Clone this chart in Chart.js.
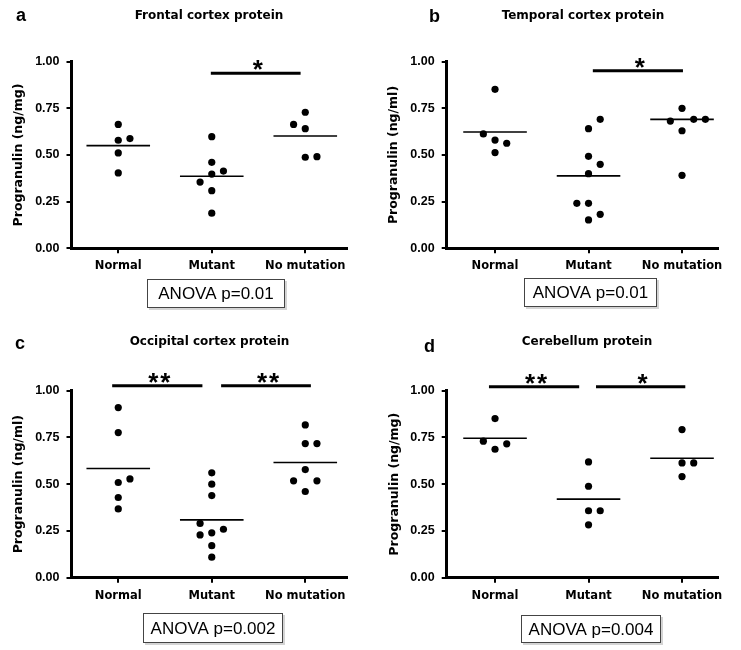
<!DOCTYPE html>
<html>
<head>
<meta charset="utf-8">
<script src="https://cdn.jsdelivr.net/npm/chart.js@4.4.1/dist/chart.umd.min.js"></script>
<style>
  html, body { margin: 0; padding: 0; background: #fff; }
  #fig { position: relative; width: 741px; height: 650px; }
  .panel { position: absolute; }
</style>
</head>
<body>
<div id="fig">
  <canvas id="panelA" class="panel" width="370" height="325" style="left:0;top:0;width:370px;height:325px"></canvas>
  <canvas id="panelB" class="panel" width="371" height="325" style="left:370px;top:0;width:371px;height:325px"></canvas>
  <canvas id="panelC" class="panel" width="370" height="325" style="left:0;top:325px;width:370px;height:325px"></canvas>
  <canvas id="panelD" class="panel" width="371" height="325" style="left:370px;top:325px;width:371px;height:325px"></canvas>
</div>
<script>
// Progranulin dot plots — four brain regions.

const groups = ["Normal", "Mutant", "No mutation"];
const yTicks = [0, 0.25, 0.5, 0.75, 1];

// --- Frontal cortex (ng/mg) ---
const frontalNormal = [0.664, 0.579, 0.511, 0.404, 0.588];
const frontalMutant = [0.598, 0.461, 0.398, 0.309, 0.188, 0.414, 0.355];
const frontalNoMut = [0.729, 0.641, 0.488, 0.491, 0.664];
const frontalMeans = [0.550, 0.386, 0.602];
const frontalSig = [{ pair: [1, 2], label: "*" }];

// --- Temporal cortex (ng/ml) ---
const temporalNormal = [0.852, 0.580, 0.513, 0.563, 0.613];
const temporalMutant = [0.641, 0.493, 0.400, 0.241, 0.152, 0.691, 0.450, 0.182, 0.241];
const temporalNoMut = [0.750, 0.630, 0.391, 0.691, 0.682, 0.691];
const temporalMeans = [0.623, 0.388, 0.691];
const temporalSig = [{ pair: [1, 2], label: "*" }];

// --- Occipital cortex (ng/ml) ---
const occipitalNormal = [0.910, 0.776, 0.509, 0.368, 0.429, 0.528];
const occipitalMutant = [0.500, 0.439, 0.240, 0.171, 0.110, 0.561, 0.259, 0.290, 0.229];
const occipitalNoMut = [0.817, 0.717, 0.578, 0.461, 0.518, 0.518, 0.717];
const occipitalMeans = [0.584, 0.309, 0.616];
const occipitalSig = [{ pair: [0, 1], label: "**" }, { pair: [1, 2], label: "**" }];

// --- Cerebellum (ng/mg) ---
const cerebellumNormal = [0.851, 0.687, 0.716, 0.730];
const cerebellumMutant = [0.619, 0.489, 0.358, 0.283, 0.358];
const cerebellumNoMut = [0.792, 0.614, 0.541, 0.614];
const cerebellumMeans = [0.746, 0.420, 0.639];
const cerebellumSig = [{ pair: [0, 1], label: "**" }, { pair: [1, 2], label: "*" }];

const ARIAL = "'Liberation Sans', Arial, sans-serif";
const WIDE = "'DejaVu Sans', sans-serif";

Chart.defaults.color = "#000";

// Prism-like scatter: points that would overlap move into side columns.
function swarmColumns(values, gap = 0.06, reach = 0.2) {
  const placed = [];
  return values.map((v) => {
    const hits = (col) => placed.some((p) => p.col === col && Math.abs(p.v - v) < gap);
    const room = (col) => placed.reduce((d, p) => (p.col === col ? Math.min(d, Math.abs(p.v - v)) : d), reach);
    let col = 0;
    for (let k = 1; hits(col); k++) {
      const free = [k, -k].filter((c) => !hits(c));
      if (free.length) {
        col = free.length === 2 && room(-k) > room(k) ? -k : free[0];
        break;
      }
    }
    placed.push({ v, col });
    return col;
  });
}

const decor = {
  id: "decor",
  afterDraw(chart, args, o) {
    const { ctx } = chart;
    const x = chart.scales.x, y = chart.scales.y;
    ctx.save();
    ctx.fillStyle = "#000";
    ctx.textBaseline = "alphabetic";

    ctx.font = `bold 18px ${ARIAL}`;
    ctx.textAlign = "left";
    ctx.fillText(o.letter, o.letterAt[0], o.letterAt[1]);

    ctx.font = `bold 12px ${WIDE}`;
    ctx.textAlign = "center";
    ctx.fillText(o.title, o.titleAt[0], o.titleAt[1]);

    // significance bars + stars
    o.sig.forEach((s, i) => {
      const trim = o.barTrim[i];
      const x0 = x.getPixelForValue(s.pair[0] + trim[0]);
      const x1 = x.getPixelForValue(s.pair[1] + trim[1]);
      const yy = y.getPixelForValue(o.barLevel);
      ctx.lineWidth = 3;
      ctx.strokeStyle = "#000";
      ctx.beginPath();
      ctx.moveTo(x0, yy);
      ctx.lineTo(x1, yy);
      ctx.stroke();

      ctx.font = `bold 26px ${ARIAL}`;
      const m = ctx.measureText("*");
      const base = yy - 8 + (m.actualBoundingBoxAscent - m.actualBoundingBoxDescent) / 2;
      const n = s.label.length;
      const cx = (x0 + x1) / 2 + 2;
      for (let j = 0; j < n; j++) ctx.fillText("*", cx + (j - (n - 1) / 2) * 12, base);
    });

    // ANOVA box
    const [bx, by, bw, bh] = o.box;
    ctx.fillStyle = "#d4d4d4";
    ctx.fillRect(bx + 2, by + 2, bw, bh);
    ctx.fillStyle = "#fff";
    ctx.fillRect(bx, by, bw, bh);
    ctx.lineWidth = 1;
    ctx.strokeStyle = "#444";
    ctx.strokeRect(bx + 0.5, by + 0.5, bw - 1, bh - 1);
    ctx.fillStyle = "#000";
    ctx.font = `17px ${ARIAL}`;
    ctx.textBaseline = "middle";
    ctx.fillText(o.anova, bx + bw / 2, by + bh / 2 + 1);
    ctx.restore();
  },
};

function makePanel(id, series, means, p) {
  const points = [];
  series.forEach((vals, g) => {
    const cols = swarmColumns(vals);
    vals.forEach((v, j) => points.push({ x: g + cols[j] * 0.125, y: v }));
  });

  const meanSets = means.map((m, g) => ({
    data: [{ x: g - 0.34, y: m }, { x: g + 0.34, y: m }],
    showLine: true,
    borderColor: "#000",
    borderWidth: 1.6,
    pointRadius: 0,
  }));

  return new Chart(document.getElementById(id), {
    type: "scatter",
    data: {
      datasets: [
        { data: points, pointRadius: 3.6, pointBackgroundColor: "#000", pointBorderWidth: 0, showLine: false },
        ...meanSets,
      ],
    },
    options: {
      responsive: false,
      animation: false,
      events: [],
      layout: { padding: { top: p.top, right: p.right, bottom: p.bottom, left: 0 } },
      plugins: {
        legend: { display: false },
        tooltip: { enabled: false },
        decor: p,
      },
      scales: {
        x: {
          type: "linear",
          min: p.xmin,
          max: p.xmax,
          afterBuildTicks: (s) => { s.ticks = groups.map((_, i) => ({ value: i })); },
          afterFit: (s) => { s.height = 30; },
          ticks: {
            callback: (v) => groups[v],
            font: { family: WIDE, weight: "bold", size: 11.5 },
            padding: 6,
            maxRotation: 0,
            autoSkip: false,
          },
          grid: { drawOnChartArea: false, drawTicks: true, tickLength: 5, lineWidth: 2, color: "#000" },
          border: { display: true, width: 3, color: "#000" },
        },
        y: {
          min: 0,
          max: 1,
          afterBuildTicks: (s) => { s.ticks = yTicks.map((v) => ({ value: v })); },
          afterFit: (s) => { s.width = p.left; },
          ticks: {
            callback: (v) => v.toFixed(2),
            font: { family: ARIAL, weight: "bold", size: 12.5 },
            padding: 7,
          },
          grid: { drawOnChartArea: false, drawTicks: true, tickLength: 5, lineWidth: 2, color: "#000" },
          border: { display: true, width: 3, color: "#000" },
          title: {
            display: true,
            text: p.yTitle,
            font: { family: WIDE, weight: "bold", size: 12.5 },
            padding: { top: p.yTitlePad, bottom: 0 },
          },
        },
      },
    },
    plugins: [decor],
  });
}

makePanel("panelA", [frontalNormal, frontalMutant, frontalNoMut], frontalMeans, {
  letter: "a", letterAt: [16, 21], title: "Frontal cortex protein", titleAt: [209, 18.5],
  yTitle: "Progranulin (ng/mg)", yTitlePad: 11.5,
  left: 71.5, top: 61.7, right: 23.3, bottom: 46.7, xmin: -0.5, xmax: 2.443,
  sig: frontalSig, barLevel: 0.9375, barTrim: [[-0.01, -0.05]],
  anova: "ANOVA p=0.01", box: [147, 279, 138, 29],
});

makePanel("panelB", [temporalNormal, temporalMutant, temporalNoMut], temporalMeans, {
  letter: "b", letterAt: [59, 21.5], title: "Temporal cortex protein", titleAt: [213, 18.5],
  yTitle: "Progranulin (ng/ml)", yTitlePad: 16.7,
  left: 76.7, top: 61.7, right: 22.7, bottom: 46.7, xmin: -0.517, xmax: 2.388,
  sig: temporalSig, barLevel: 0.952, barTrim: [[0.046, 0.01]],
  anova: "ANOVA p=0.01", box: [154, 278, 133, 29],
});

makePanel("panelC", [occipitalNormal, occipitalMutant, occipitalNoMut], occipitalMeans, {
  letter: "c", letterAt: [15, 24.3], title: "Occipital cortex protein", titleAt: [209.5, 20],
  yTitle: "Progranulin (ng/ml)", yTitlePad: 11.5,
  left: 71.5, top: 65.7, right: 23.3, bottom: 42.3, xmin: -0.5, xmax: 2.443,
  sig: occipitalSig, barLevel: 1.026, barTrim: [[-0.065, -0.1], [0.1, 0.06]],
  anova: "ANOVA p=0.002", box: [143, 288, 140, 30],
});

makePanel("panelD", [cerebellumNormal, cerebellumMutant, cerebellumNoMut], cerebellumMeans, {
  letter: "d", letterAt: [54, 26.7], title: "Cerebellum protein", titleAt: [217, 20],
  yTitle: "Progranulin (ng/mg)", yTitlePad: 17.5,
  left: 76.7, top: 65.7, right: 22.7, bottom: 42.3, xmin: -0.517, xmax: 2.388,
  sig: cerebellumSig, barLevel: 1.021, barTrim: [[-0.065, -0.1], [0.08, 0.035]],
  anova: "ANOVA p=0.004", box: [151, 290, 140, 28],
});
</script>
</body>
</html>
